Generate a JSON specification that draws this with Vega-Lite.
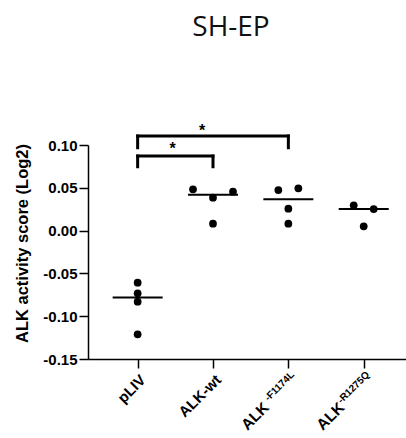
{
  "$schema": "https://vega.github.io/schema/vega-lite/v6.json",
  "width": 318,
  "height": 214,
  "autosize": "none",
  "padding": {"left": 88, "top": 145, "right": 0, "bottom": 79},
  "background": "white",
  "title": {"text": "SH-EP", "font": "Open Sans", "fontSize": 28, "fontWeight": "normal", "color": "#111111", "offset": 59, "baseline": "alphabetic", "frame": "group", "anchor": "middle", "dx": -16},
  "config": {
    "view": {"stroke": null},
    "locale": {"number": {"decimal": ".", "thousands": ",", "grouping": [3], "currency": ["$", ""], "minus": "-"}},
    "axis": {"grid": false, "domainColor": "black", "domainWidth": 1.5, "tickColor": "black", "tickWidth": 1.5, "tickSize": 9, "labelColor": "black", "labelFont": "Liberation Sans", "labelFontWeight": "bold", "labelFontSize": 15, "titleFont": "Liberation Sans", "titleFontWeight": "bold", "titleFontSize": 16.5, "titleColor": "black"}
  },
  "datasets": {
    "pts": [
      {"group": "pLIV", "value": -0.0609, "jitter": 0},
      {"group": "pLIV", "value": -0.0732, "jitter": 0},
      {"group": "pLIV", "value": -0.0831, "jitter": 0},
      {"group": "pLIV", "value": -0.1211, "jitter": 0},
      {"group": "ALK-wt", "value": 0.0482, "jitter": -2},
      {"group": "ALK-wt", "value": 0.0455, "jitter": 2},
      {"group": "ALK-wt", "value": 0.0384, "jitter": 0},
      {"group": "ALK-wt", "value": 0.0081, "jitter": 0},
      {"group": "ALK-F1174L", "value": 0.0474, "jitter": -1},
      {"group": "ALK-F1174L", "value": 0.0494, "jitter": 1},
      {"group": "ALK-F1174L", "value": 0.0256, "jitter": 0},
      {"group": "ALK-F1174L", "value": 0.0081, "jitter": 0},
      {"group": "ALK-R1275Q", "value": 0.0296, "jitter": -1},
      {"group": "ALK-R1275Q", "value": 0.0252, "jitter": 1},
      {"group": "ALK-R1275Q", "value": 0.0050, "jitter": 0}
    ],
    "brackets": [
      {"from": "pLIV", "to": "ALK-wt", "y": 0.0871},
      {"from": "pLIV", "to": "ALK-F1174L", "y": 0.1105}
    ],
    "legs": [
      {"group": "pLIV", "y": 0.0871, "y2": 0.0746},
      {"group": "ALK-wt", "y": 0.0871, "y2": 0.0746},
      {"group": "pLIV", "y": 0.1105, "y2": 0.0968},
      {"group": "ALK-F1174L", "y": 0.1105, "y2": 0.0968}
    ],
    "star1": [{"group": "pLIV", "y": 0.090, "label": "*"}],
    "star2": [{"group": "ALK-wt", "y": 0.111, "label": "*"}],
    "sups": [
      {"group": "ALK-F1174L", "base": "ALK", "sup": "-F1174L"},
      {"group": "ALK-R1275Q", "base": "ALK", "sup": "-R1275Q"}
    ]
  },
  "encoding": {
    "x": {"field": "group", "type": "nominal", "title": null, "sort": null,
      "scale": {"type": "point", "domain": ["pLIV", "ALK-wt", "ALK-F1174L", "ALK-R1275Q"], "padding": 0.61, "align": 0.54},
      "axis": {"labelAngle": -45, "labelPadding": 4, "labelFontSize": 15, "labelExpr": "length(datum.value) > 6 ? '' : datum.value"}}
  },
  "layer": [
    {
      "mark": {"type": "rule", "strokeDash": [1.5, 2], "strokeWidth": 1.5, "color": "black"},
      "encoding": {"x": null, "y": {"datum": 0, "type": "quantitative"}}
    },
    {
      "data": {"name": "pts"},
      "mark": {"type": "circle", "size": 60, "color": "black", "opacity": 1},
      "encoding": {
        "xOffset": {"field": "jitter", "type": "quantitative", "scale": {"domain": [-2, 2], "range": [-20, 20]}},
        "y": {"field": "value", "type": "quantitative", "title": "ALK activity score (Log2)",
          "scale": {"domain": [-0.15, 0.1], "nice": false, "zero": false},
          "axis": {"values": [-0.15, -0.1, -0.05, 0, 0.05, 0.1], "format": ".2f", "labelPadding": 2, "titlePadding": 12, "titleY": 98}}
      }
    },
    {
      "data": {"name": "pts"},
      "mark": {"type": "tick", "size": 50, "thickness": 2, "color": "black"},
      "encoding": {"y": {"aggregate": "median", "field": "value", "type": "quantitative"}}
    },
    {
      "data": {"name": "brackets"},
      "mark": {"type": "rule", "strokeWidth": 3, "color": "black", "strokeCap": "square"},
      "encoding": {"x": {"field": "from", "type": "nominal"}, "x2": {"field": "to"}, "y": {"field": "y", "type": "quantitative"}}
    },
    {
      "data": {"name": "legs"},
      "mark": {"type": "rule", "strokeWidth": 3, "color": "black", "strokeCap": "square"},
      "encoding": {"y": {"field": "y", "type": "quantitative"}, "y2": {"field": "y2"}}
    },
    {
      "data": {"name": "star1"},
      "mark": {"type": "text", "dx": 35, "fontSize": 16, "fontWeight": "bold", "font": "Liberation Sans", "baseline": "alphabetic", "color": "black"},
      "encoding": {"y": {"field": "y", "type": "quantitative"}, "text": {"field": "label"}}
    },
    {
      "data": {"name": "star2"},
      "mark": {"type": "text", "dx": -11, "fontSize": 16, "fontWeight": "bold", "font": "Liberation Sans", "baseline": "alphabetic", "color": "black"},
      "encoding": {"y": {"field": "y", "type": "quantitative"}, "text": {"field": "label"}}
    },
    {
      "data": {"name": "sups"},
      "mark": {"type": "text", "angle": -45, "align": "right", "baseline": "top", "dx": -7, "dy": 8, "fontSize": 10, "fontWeight": "bold", "font": "Liberation Sans", "color": "black"},
      "encoding": {"y": {"datum": -0.15, "type": "quantitative"}, "text": {"field": "sup"}}
    },
    {
      "data": {"name": "sups"},
      "mark": {"type": "text", "angle": -45, "align": "right", "baseline": "top", "dx": -48, "dy": 10, "fontSize": 15.5, "fontWeight": "bold", "font": "Liberation Sans", "color": "black"},
      "encoding": {"y": {"datum": -0.15, "type": "quantitative"}, "text": {"field": "base"}}
    }
  ]
}
